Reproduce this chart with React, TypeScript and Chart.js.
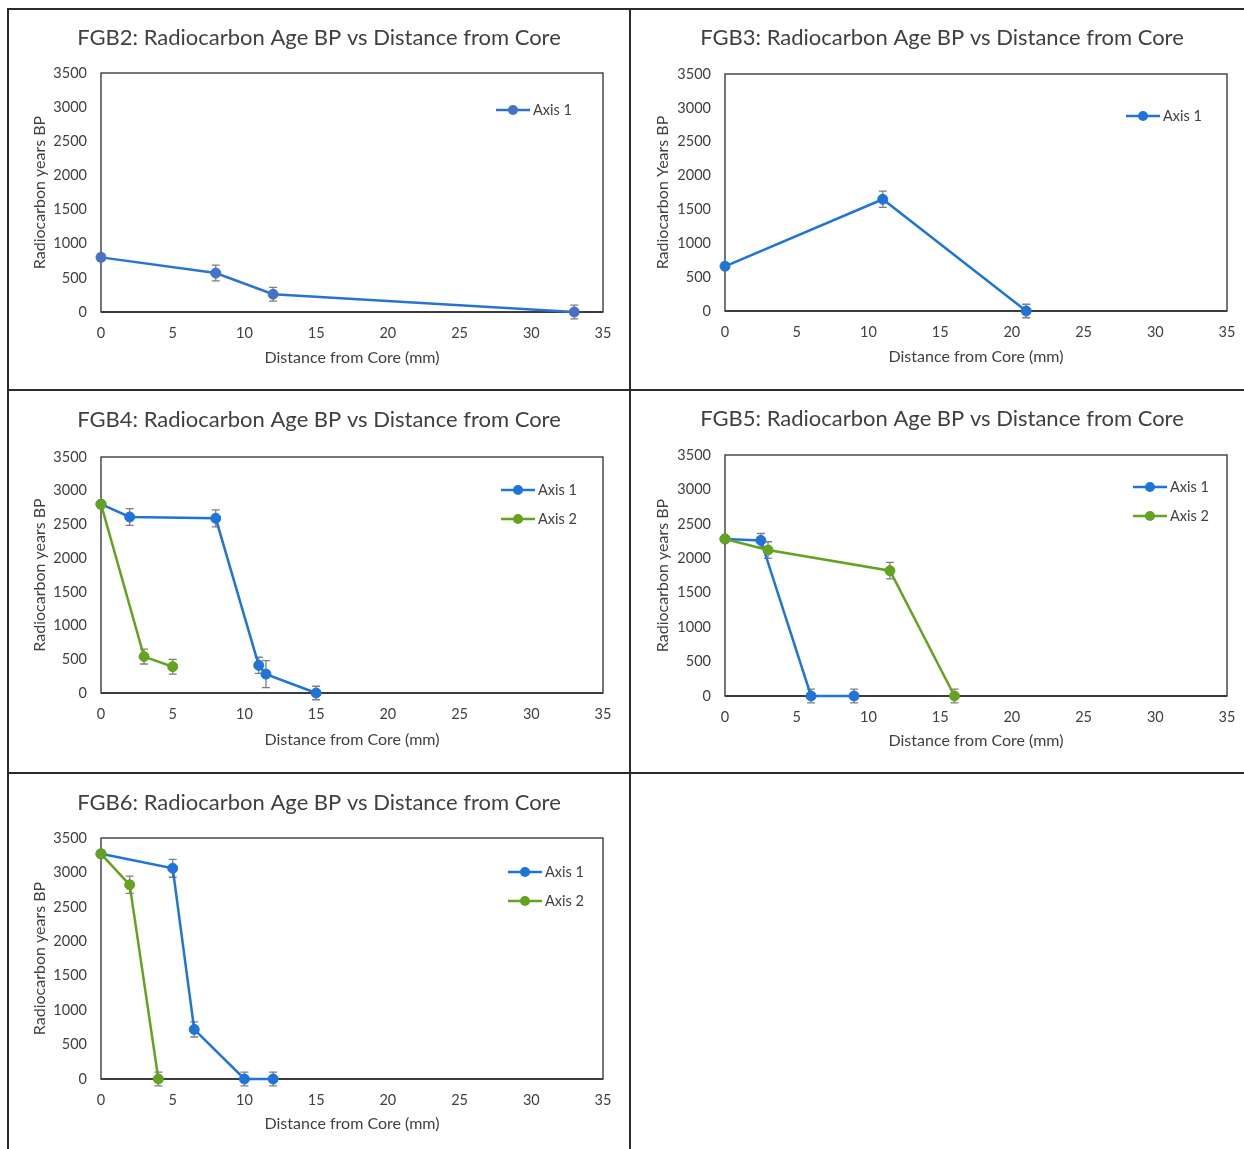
import React, { useEffect, useRef } from "react";
import { Chart, registerables } from "chart.js";

Chart.register(...registerables);

// ---------------- DATA ----------------
const xTickMin = 0;
const xTickMax = 35;
const xTickStep = 5;
const yTickMin = 0;
const yTickMax = 3500;
const yTickStep = 500;

const fgb2Distance = [0, 8, 12, 33];
const fgb2Age = [800, 570, 260, 0];
const fgb2Err = [50, 115, 100, 100];

const fgb3Distance = [0, 11, 21];
const fgb3Age = [660, 1650, 0];
const fgb3Err = [50, 120, 100];

const fgb4Axis1Distance = [0, 2, 8, 11, 11.5, 15];
const fgb4Axis1Age = [2800, 2610, 2590, 410, 280, 0];
const fgb4Axis1Err = [50, 125, 125, 120, 200, 100];
const fgb4Axis2Distance = [0, 3, 5];
const fgb4Axis2Age = [2800, 540, 390];
const fgb4Axis2Err = [50, 110, 110];

const fgb5Axis1Distance = [0, 2.5, 6, 9];
const fgb5Axis1Age = [2280, 2260, 0, 0];
const fgb5Axis1Err = [50, 100, 100, 100];
const fgb5Axis2Distance = [0, 3, 11.5, 16];
const fgb5Axis2Age = [2280, 2120, 1820, 0];
const fgb5Axis2Err = [50, 120, 120, 100];

const fgb6Axis1Distance = [0, 5, 6.5, 10, 12];
const fgb6Axis1Age = [3270, 3060, 720, 0, 0];
const fgb6Axis1Err = [50, 130, 110, 100, 100];
const fgb6Axis2Distance = [0, 2, 4];
const fgb6Axis2Age = [3270, 2820, 0];
const fgb6Axis2Err = [50, 125, 100];

const xTitle = "Distance from Core (mm)";

// ---------------- STYLE ----------------
const FONT = "Lato, 'Open Sans', sans-serif";
const TEXT = "#404040";
const BLUE = "#1F74D8";
const BLUE_FGB2_LINE = "#2A72D2";
const BLUE_FGB2_POINT = "#4472C4";
const GREEN = "#64A31F";
const ERR = "#7F7F7F";

type Series = { label: string; x: number[]; y: number[]; err: number[]; line: string; point: string; order: number };
type Panel = {
  title: string;
  yTitle: string;
  series: Series[];
  cell: { x: number; y: number; w: number; h: number };
  plot: { l: number; t: number; r: number; b: number };
  titleAt: { x: number; y: number };
  yTitleX: number;
  xTitleY: number;
  legend: { x: number; y: number; gap: number };
};

const panels: Panel[] = [
  {
    title: "FGB2: Radiocarbon Age BP vs Distance from Core",
    yTitle: "Radiocarbon years BP",
    series: [
      { label: "Axis 1", x: fgb2Distance, y: fgb2Age, err: fgb2Err, line: BLUE_FGB2_LINE, point: BLUE_FGB2_POINT, order: 1 },
    ],
    cell: { x: 9, y: 10, w: 620, h: 379 },
    plot: { l: 101, t: 73, r: 603, b: 312 },
    titleAt: { x: 319, y: 38 },
    yTitleX: 40,
    xTitleY: 358,
    legend: { x: 496, y: 110, gap: 30 },
  },
  {
    title: "FGB3: Radiocarbon Age BP vs Distance from Core",
    yTitle: "Radiocarbon Years BP",
    series: [{ label: "Axis 1", x: fgb3Distance, y: fgb3Age, err: fgb3Err, line: BLUE, point: BLUE, order: 1 }],
    cell: { x: 631, y: 10, w: 622, h: 379 },
    plot: { l: 725, t: 74, r: 1227, b: 311 },
    titleAt: { x: 942, y: 38 },
    yTitleX: 663,
    xTitleY: 357,
    legend: { x: 1126, y: 116, gap: 30 },
  },
  {
    title: "FGB4: Radiocarbon Age BP vs Distance from Core",
    yTitle: "Radiocarbon years BP",
    series: [
      { label: "Axis 1", x: fgb4Axis1Distance, y: fgb4Axis1Age, err: fgb4Axis1Err, line: BLUE, point: BLUE, order: 1 },
      { label: "Axis 2", x: fgb4Axis2Distance, y: fgb4Axis2Age, err: fgb4Axis2Err, line: GREEN, point: GREEN, order: 0 },
    ],
    cell: { x: 9, y: 392, w: 620, h: 380 },
    plot: { l: 101, t: 457, r: 603, b: 693 },
    titleAt: { x: 319, y: 420 },
    yTitleX: 40,
    xTitleY: 740,
    legend: { x: 501, y: 490, gap: 29 },
  },
  {
    title: "FGB5: Radiocarbon Age BP vs Distance from Core",
    yTitle: "Radiocarbon years BP",
    series: [
      { label: "Axis 1", x: fgb5Axis1Distance, y: fgb5Axis1Age, err: fgb5Axis1Err, line: BLUE, point: BLUE, order: 1 },
      { label: "Axis 2", x: fgb5Axis2Distance, y: fgb5Axis2Age, err: fgb5Axis2Err, line: GREEN, point: GREEN, order: 0 },
    ],
    cell: { x: 631, y: 392, w: 622, h: 380 },
    plot: { l: 725, t: 455, r: 1227, b: 696 },
    titleAt: { x: 942, y: 419 },
    yTitleX: 663,
    xTitleY: 741,
    legend: { x: 1133, y: 487, gap: 29 },
  },
  {
    title: "FGB6: Radiocarbon Age BP vs Distance from Core",
    yTitle: "Radiocarbon years BP",
    series: [
      { label: "Axis 1", x: fgb6Axis1Distance, y: fgb6Axis1Age, err: fgb6Axis1Err, line: BLUE, point: BLUE, order: 1 },
      { label: "Axis 2", x: fgb6Axis2Distance, y: fgb6Axis2Age, err: fgb6Axis2Err, line: GREEN, point: GREEN, order: 0 },
    ],
    cell: { x: 9, y: 775, w: 620, h: 374 },
    plot: { l: 101, t: 838, r: 603, b: 1079 },
    titleAt: { x: 319, y: 803 },
    yTitleX: 40,
    xTitleY: 1124,
    legend: { x: 508, y: 872, gap: 29 },
  },
];

function PanelChart({ panel }: { panel: Panel }) {
  const ref = useRef<HTMLCanvasElement | null>(null);
  const { cell, plot } = panel;
  useEffect(() => {
    const canvas = ref.current;
    if (!canvas) return;
    const ox = cell.x;
    const oy = cell.y;
    const plotL = plot.l - ox;
    const plotR = plot.r - ox;
    const plotT = plot.t - oy;
    const plotB = plot.b - oy;
    const titleFont = 16;
    const titleLH = titleFont * 1.2;
    const tickFont = 14.5;

    const framePlugin = {
      id: "frameAndErrors",
      beforeDatasetsDraw(chart: any) {
        const { ctx, chartArea } = chart;
        ctx.save();
        ctx.strokeStyle = "#3c3c3c";
        ctx.lineWidth = 1.4;
        ctx.strokeRect(chartArea.left, chartArea.top, chartArea.right - chartArea.left, chartArea.bottom - chartArea.top);
        ctx.lineWidth = 2;
        ctx.beginPath();
        ctx.moveTo(chartArea.left, chartArea.bottom);
        ctx.lineTo(chartArea.right, chartArea.bottom);
        ctx.stroke();
        // error bars
        const yScale = chart.scales.y;
        ctx.strokeStyle = ERR;
        ctx.lineWidth = 1.3;
        chart.data.datasets.forEach((ds: any, i: number) => {
          const meta = chart.getDatasetMeta(i);
          meta.data.forEach((el: any, j: number) => {
            const v = ds.data[j].y;
            const e = ds.errors[j];
            if (!e) return;
            const yTop = yScale.getPixelForValue(v + e);
            const yBot = yScale.getPixelForValue(v - e);
            ctx.beginPath();
            ctx.moveTo(el.x, yTop);
            ctx.lineTo(el.x, yBot);
            ctx.moveTo(el.x - 4, yTop);
            ctx.lineTo(el.x + 4, yTop);
            ctx.moveTo(el.x - 4, yBot);
            ctx.lineTo(el.x + 4, yBot);
            ctx.stroke();
          });
        });
        ctx.restore();
      },
    };

    const textPlugin = {
      id: "titleAndLegend",
      afterDraw(chart: any) {
        const { ctx } = chart;
        ctx.save();
        ctx.fillStyle = TEXT;
        ctx.font = `22px ${FONT}`;
        ctx.textAlign = "center";
        ctx.textBaseline = "middle";
        ctx.fillText(panel.title, panel.titleAt.x - ox, panel.titleAt.y - oy);
        // legend
        const lx = panel.legend.x - ox;
        let ly = panel.legend.y - oy;
        panel.series.forEach((s) => {
          ctx.strokeStyle = s.line;
          ctx.lineWidth = 2.5;
          ctx.beginPath();
          ctx.moveTo(lx, ly);
          ctx.lineTo(lx + 34, ly);
          ctx.stroke();
          ctx.fillStyle = s.point;
          ctx.beginPath();
          ctx.arc(lx + 17, ly, 5, 0, Math.PI * 2);
          ctx.fill();
          ctx.fillStyle = TEXT;
          ctx.font = `14.5px ${FONT}`;
          ctx.textAlign = "left";
          ctx.fillText(s.label, lx + 37, ly);
          ly += panel.legend.gap;
        });
        ctx.restore();
      },
    };

    const plainTick = (v: any) => String(v);

    const chart = new Chart(canvas, {
      type: "line",
      data: {
        datasets: panel.series.map((s) => ({
          label: s.label,
          data: s.x.map((x, i) => ({ x, y: s.y[i] })),
          errors: s.err,
          borderColor: s.line,
          backgroundColor: s.point,
          pointBackgroundColor: s.point,
          pointBorderColor: s.point,
          pointBorderWidth: 1,
          borderWidth: 2.5,
          pointRadius: 5,
          pointHoverRadius: 5,
          tension: 0,
          order: s.order,
          clip: false,
        })) as any,
      },
      options: {
        responsive: false,
        animation: false,
        devicePixelRatio: 1,
        layout: { padding: { left: 0, right: cell.w - plotR, top: plotT, bottom: 0 } },
        scales: {
          x: {
            type: "linear",
            min: xTickMin,
            max: xTickMax,
            afterFit: (s: any) => {
              s.height = cell.h - plotB;
            },
            grid: { display: false, drawTicks: false, tickLength: 0 },
            border: { display: false },
            ticks: { stepSize: xTickStep, padding: 13, color: TEXT, font: { family: FONT, size: tickFont }, callback: plainTick },
            title: {
              display: true,
              text: xTitle,
              color: TEXT,
              font: { family: FONT, size: titleFont },
              padding: { top: 0, bottom: cell.y + cell.h - panel.xTitleY - titleLH / 2 },
            },
          },
          y: {
            type: "linear",
            min: yTickMin,
            max: yTickMax,
            afterFit: (s: any) => {
              s.width = plotL;
            },
            grid: { display: false, drawTicks: false, tickLength: 0 },
            border: { display: false },
            ticks: { stepSize: yTickStep, padding: 14, color: TEXT, font: { family: FONT, size: tickFont }, callback: plainTick },
            title: {
              display: true,
              text: panel.yTitle,
              color: TEXT,
              font: { family: FONT, size: titleFont },
              padding: { top: panel.yTitleX - ox - titleLH / 2, bottom: 0 },
            },
          },
        },
        plugins: {
          legend: { display: false },
          title: { display: false },
          tooltip: { enabled: false },
        },
        events: [],
      } as any,
      plugins: [framePlugin, textPlugin],
    });
    return () => chart.destroy();
  }, [panel]);

  return (
    <canvas
      ref={ref}
      width={cell.w}
      height={cell.h}
      style={{ position: "absolute", left: cell.x, top: cell.y, width: cell.w, height: cell.h }}
    />
  );
}

const lineStyle = (l: number, t: number, w: number, h: number): React.CSSProperties => ({
  position: "absolute",
  left: l,
  top: t,
  width: w,
  height: h,
  background: "#2b2b2b",
});

export default function App() {
  return (
    <div style={{ position: "absolute", left: 0, top: 0, width: 1244, height: 1149, overflow: "hidden", background: "#fff" }}>
      {panels.map((p, i) => (
        <PanelChart key={i} panel={p} />
      ))}
      <div style={lineStyle(7, 8, 1237, 2)} />
      <div style={lineStyle(7, 389, 1237, 2)} />
      <div style={lineStyle(7, 772, 1237, 2)} />
      <div style={lineStyle(7, 8, 2, 1141)} />
      <div style={lineStyle(629, 8, 2, 1141)} />
    </div>
  );
}
